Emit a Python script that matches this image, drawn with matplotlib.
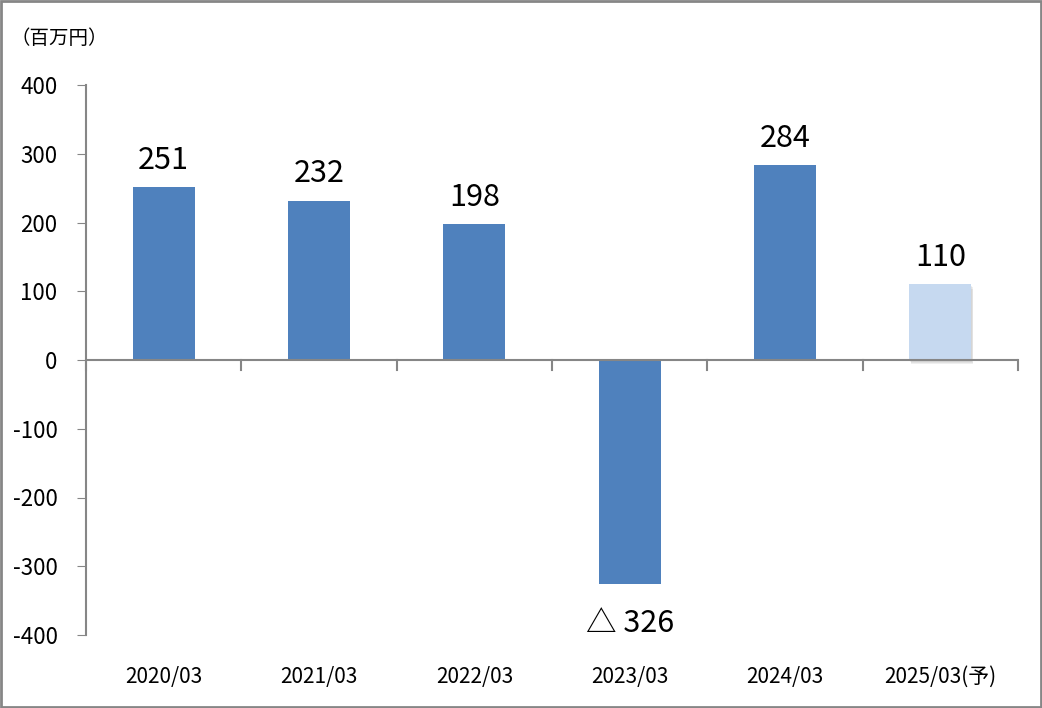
import matplotlib.pyplot as plt
from matplotlib.patches import Rectangle

plt.rcParams['font.family'] = ['Noto Sans CJK JP', 'DejaVu Sans']
plt.rcParams['axes.unicode_minus'] = False

# データ
categories = ['2020/03', '2021/03', '2022/03', '2023/03', '2024/03', '2025/03(予)']
values = [251, 232, 198, -326, 284, 110]
forecast = [False, False, False, False, False, True]

fig = plt.figure(figsize=(10.42, 7.08), dpi=100)
ax = fig.add_axes([86 / 1042, 1 - 635 / 708, (1018 - 86) / 1042, (635 - 85) / 708])

x = list(range(len(categories)))
colors = ['#c6d9f0' if f else '#4f81bd' for f in forecast]

# 予想の棒にうっすら影
for xi, v, f in zip(x, values, forecast):
    if f:
        for k in range(3):
            ax.bar(xi + 0.004 * (k + 1), v, width=0.4, bottom=-1.5 * (k + 2),
                   color='#808080', alpha=0.12, zorder=1, linewidth=0)

ax.bar(x, values, width=0.4, color=colors, zorder=2)

for xi, v in zip(x, values):
    if v >= 0:
        ax.text(xi, v + 16, f'{v}', ha='center', va='bottom', fontsize=22)
    else:
        ax.text(xi, v - 34, f'△ {abs(v)}', ha='center', va='top', fontsize=22)

ax.set_xlim(-0.5, len(categories) - 0.5)
ax.set_ylim(-400, 400)
ax.set_yticks(range(-400, 401, 100))
ax.tick_params(axis='y', labelsize=16, length=6.5, color='#868686', pad=14)

# x軸は0の位置、目盛りは区切り位置
ax.set_xticks(x)
ax.set_xticklabels(categories, fontsize=15)
ax.tick_params(axis='x', length=0, pad=22)
for b in [i - 0.5 for i in range(len(categories) + 1)]:
    ax.plot([b, b], [0, -14], color='#868686', lw=1.5, zorder=3, clip_on=False)
ax.axhline(0, color='#868686', lw=1.5, zorder=3)

for side in ['top', 'right', 'bottom']:
    ax.spines[side].set_visible(False)
ax.spines['left'].set_color('#868686')
ax.spines['left'].set_linewidth(1.5)

fig.text(10 / 1042, 1 - 38 / 708, '（百万円）', fontsize=14, va='center', ha='left')

# 外枠
fig.patches.append(Rectangle((0.001, 0.001), 0.998, 0.998, transform=fig.transFigure,
                             fill=False, edgecolor='#868686', lw=2))

fig.savefig('out.png', dpi=100)
